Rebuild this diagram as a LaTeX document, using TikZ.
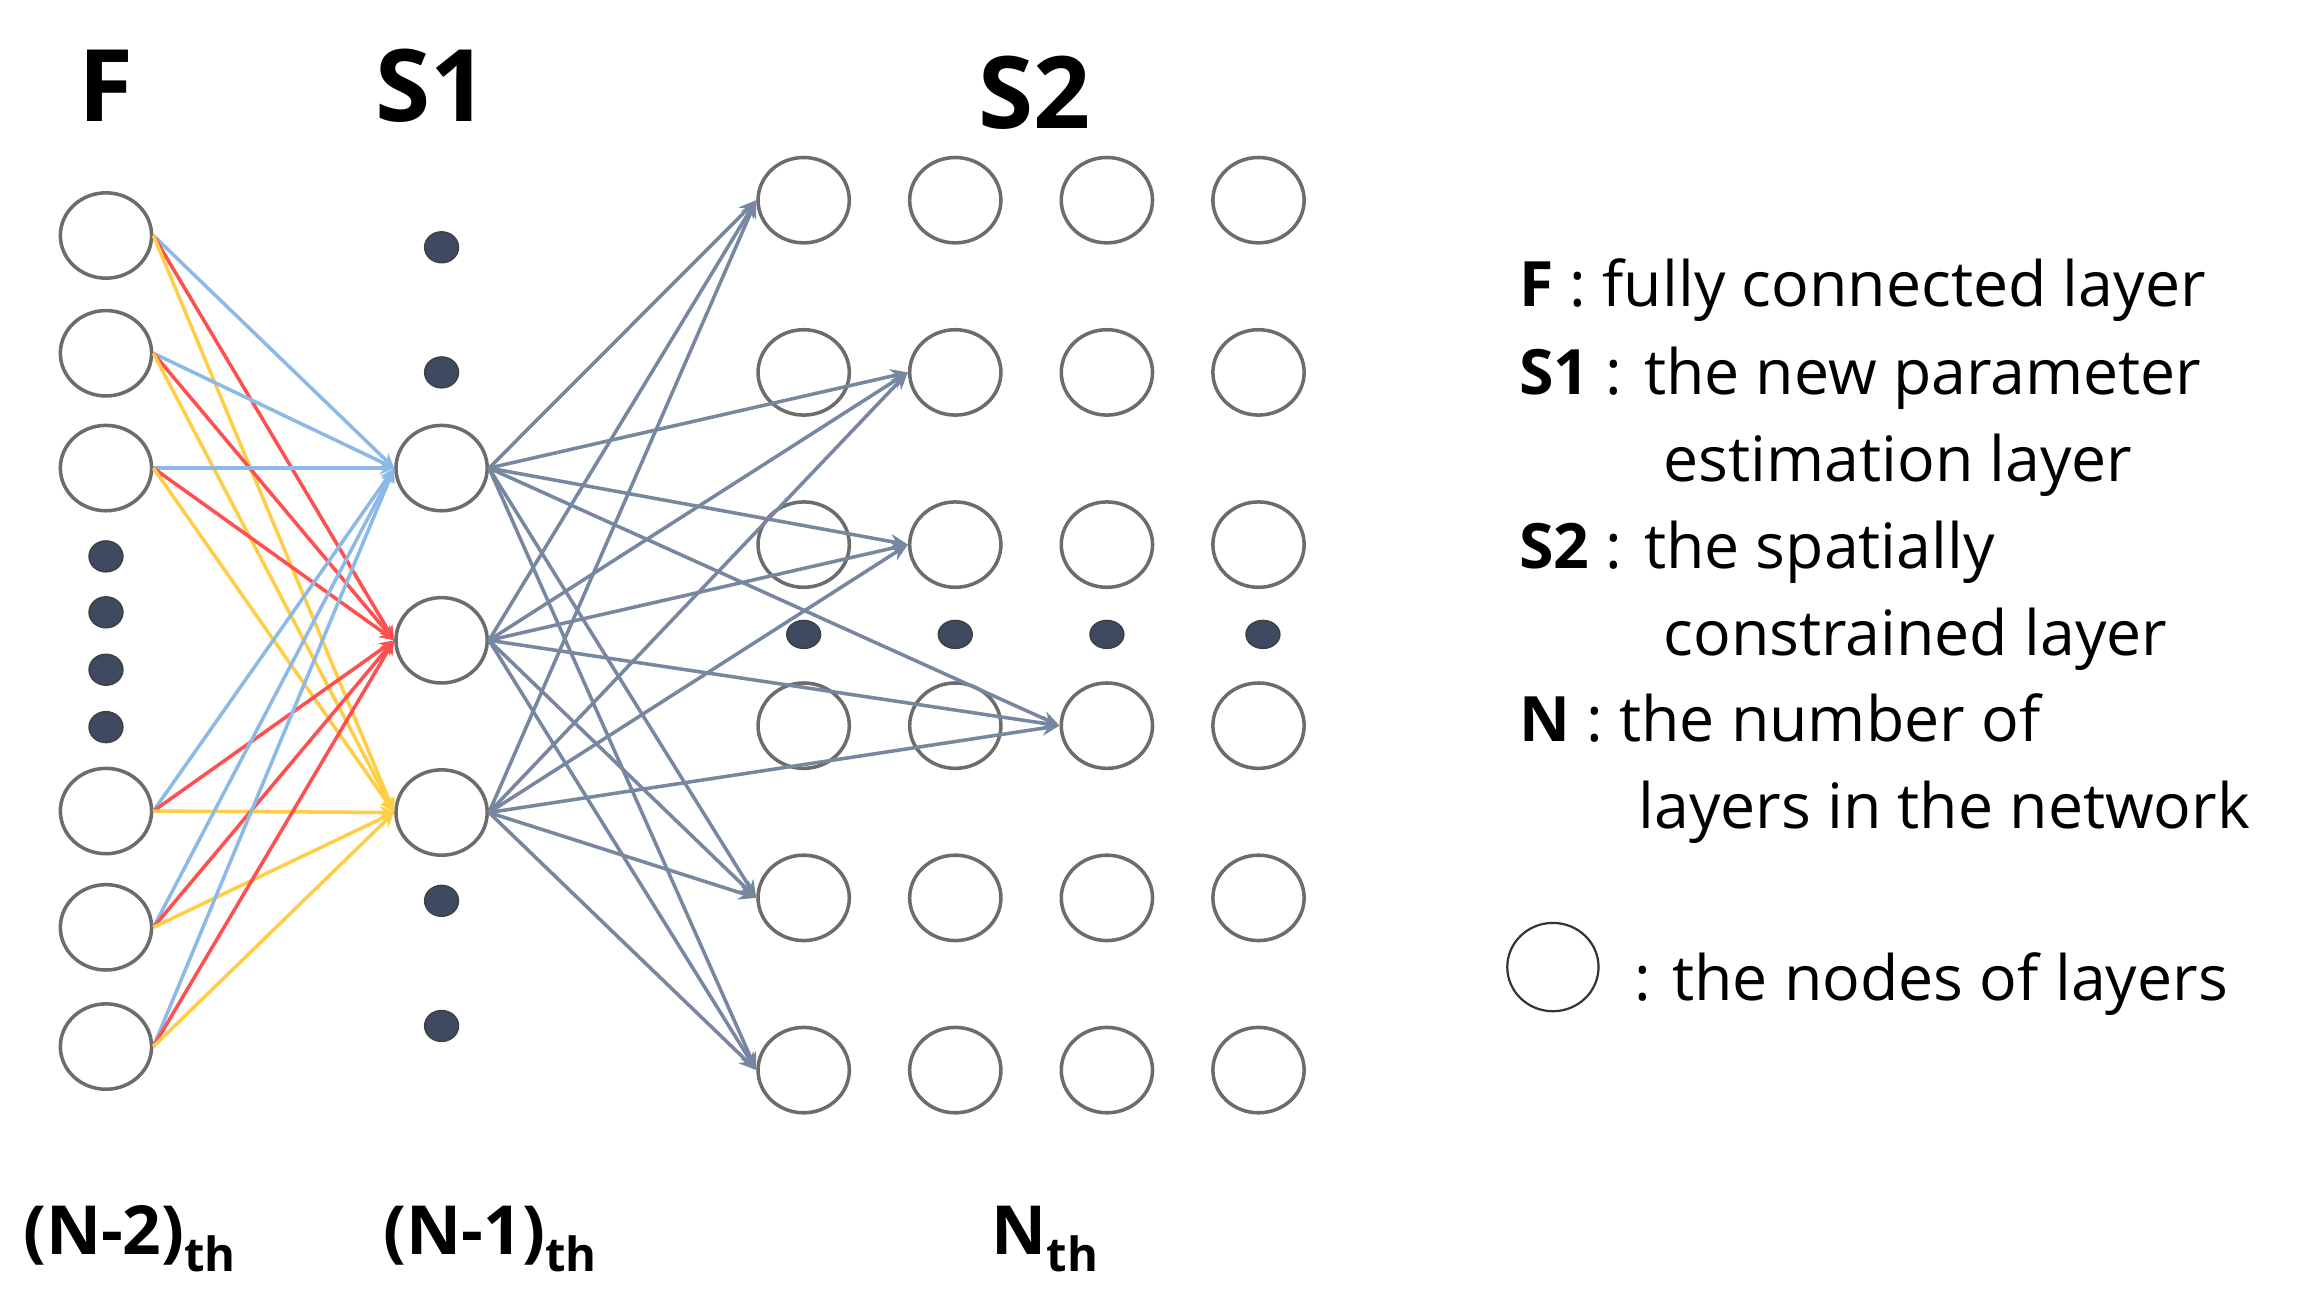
\documentclass[tikz,border=0pt]{standalone}
\usepackage{fontspec}
\setmainfont{Open Sans}
\usetikzlibrary{shapes.geometric,arrows.meta}
\definecolor{dotc}{RGB}{62,74,95}
\begin{document}
\begin{tikzpicture}[x=1pt,y=-1pt,
  nd/.style={ellipse,draw=gray!85!black,line width=2.4pt,minimum width=62pt,minimum height=58pt,inner sep=0pt},
  dt/.style={ellipse,fill=dotc,draw=black!75,line width=1pt,minimum width=23pt,minimum height=21pt,inner sep=0pt},
  bl/.style={line width=2.4pt,-{Stealth[length=10pt,width=9pt]}, color={rgb,255:red,140;green,185;blue,230}},
  rd/.style={line width=2.4pt,-{Stealth[length=10pt,width=9pt]}, color={rgb,255:red,255;green,80;blue,80}},
  yl/.style={line width=2.4pt,-{Stealth[length=10pt,width=9pt]}, color={rgb,255:red,255;green,205;blue,70}},
  gr/.style={line width=2.4pt,-{Stealth[length=12pt,width=10pt]}, color={rgb,255:red,120;green,135;blue,160}},
  big/.style={font=\fontsize{68}{70}\selectfont\bfseries},
  bot/.style={font=\fontsize{46}{50}\selectfont\bfseries,anchor=base},
  leg/.style={font=\fontsize{42.5}{46}\selectfont,anchor=base west,inner sep=0pt}]
\useasboundingbox (0,0) rectangle (1568,890);
% F layer
\foreach \y [count=\i] in {160,240,318,551,630,711} \node[nd] (f\i) at (72,\y) {};
\foreach \y [count=\i] in {378,416,455,494} \node[dt] (fd\i) at (72,\y) {};
% S1 layer
\node[nd] (sa) at (300,318) {};
\node[nd] (sb) at (300,435) {};
\node[nd] (sc) at (300,552) {};
\foreach \y [count=\i] in {168,253,612,697} \node[dt] (sd\i) at (300,\y) {};
% S2 layer
\foreach \x [count=\c] in {546,649,752,855}{
  \foreach \y [count=\r] in {136,253,370,493,610,727} \node[nd] (c\c r\r) at (\x,\y) {};
}
\foreach \x [count=\c] in {546,649,752,858} \node[dt,minimum height=19pt] (td\c) at (\x,431) {};
% F -> S1
\foreach \i in {1,...,6}{
  \draw[bl] (f\i.east) -- (sa.west);
  \draw[rd] (f\i.east) -- (sb.west);
  \draw[yl] (f\i.east) -- (sc.west);
}
% S1 -> S2
\foreach \s in {sa,sb,sc}{
  \foreach \t in {c1r1,c2r2,c2r3,c3r4,c1r5,c1r6} \draw[gr] (\s.east) -- (\t.west);
}
% titles
\node[big] (tF) at (72,58) {F};
\node[big] (tS1) at (293,58) {S1};
\node[big] (tS2) at (703,63) {S2};
\node[bot] (b1) at (88,852) {(N-2)\raisebox{-0.25em}{\fontsize{32}{34}\selectfont th}};
\node[bot] (b2) at (333,852) {(N-1)\raisebox{-0.25em}{\fontsize{32}{34}\selectfont th}};
\node[bot] (b3) at (710,852) {N\raisebox{-0.25em}{\fontsize{32}{34}\selectfont th}};
% legend
\node[leg] (l1) at (1032,208) {\textbf{F} : fully connected layer};
\node[leg] (l2) at (1032,268) {\textbf{S1} : the new parameter};
\node[leg] (l3) at (1130,327) {estimation layer};
\node[leg] (l4) at (1032,386) {\textbf{S2} : the spatially};
\node[leg] (l5) at (1130,445) {constrained layer};
\node[leg] (l6) at (1032,504) {\textbf{N} : the number of};
\node[leg] (l7) at (1113,563) {layers in the network};
\node[nd,draw=black!80,line width=1.5pt,minimum width=62pt,minimum height=60pt] (lc) at (1055,657) {};
\node[leg] (l8) at (1110,680) {: the nodes of layers};
\end{tikzpicture}
\end{document}
